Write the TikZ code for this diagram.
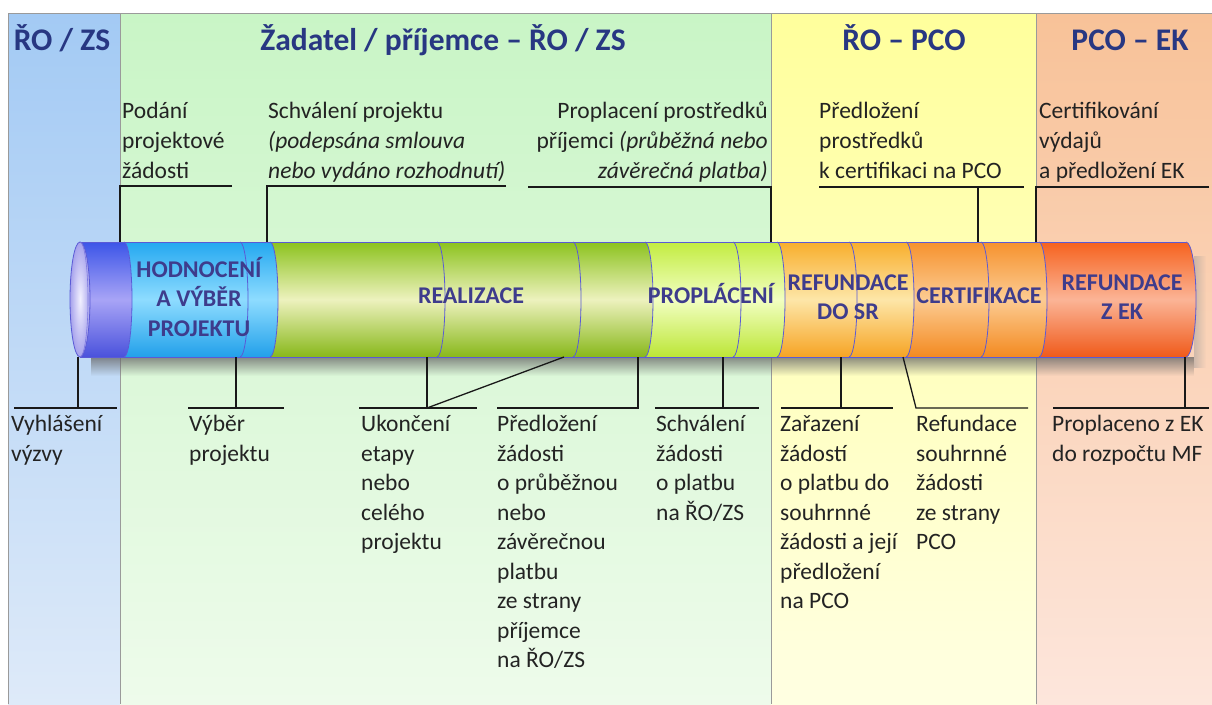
\documentclass[tikz,border=0pt]{standalone}
\usepackage{fontspec}
\setmainfont{Carlito}
\usetikzlibrary{fadings}
\tikzfading[name=shfade, top color=transparent!25, bottom color=transparent!100]
\tikzfading[name=shfadeR, left color=transparent!55, right color=transparent!100]
\definecolor{bgBa}{HTML}{A3CAF4}\definecolor{bgBb}{HTML}{DEEAF9}
\definecolor{bgGa}{HTML}{C9F5C6}\definecolor{bgGb}{HTML}{EEFBEB}
\definecolor{bgYa}{HTML}{FFFF9C}\definecolor{bgYb}{HTML}{FFFFE2}
\definecolor{bgOa}{HTML}{F8C298}\definecolor{bgOb}{HTML}{FDE6DC}
\definecolor{framec}{HTML}{9A9A9A}
\definecolor{hdrc}{RGB}{40,55,130}
\definecolor{segc}{RGB}{62,60,140}
\definecolor{txt}{RGB}{35,35,35}
\definecolor{arcc}{HTML}{5A5AD6}
\definecolor{bandT}{HTML}{3C55E8}\definecolor{bandM}{HTML}{A8A4F6}\definecolor{bandB}{HTML}{4A52DC}
\definecolor{bluT}{HTML}{24A8F0}\definecolor{bluM}{HTML}{8EDCFF}\definecolor{bluB}{HTML}{22A0EA}
\definecolor{grnT}{HTML}{8CC21E}\definecolor{grnM}{HTML}{EDF2BE}\definecolor{grnB}{HTML}{88B81A}
\definecolor{lgrT}{HTML}{C2EC40}\definecolor{lgrM}{HTML}{F2FFC2}\definecolor{lgrB}{HTML}{BCE636}
\definecolor{yorT}{HTML}{F8AE2C}\definecolor{yorM}{HTML}{FDE6A8}\definecolor{yorB}{HTML}{F6A424}
\definecolor{orgT}{HTML}{F6922E}\definecolor{orgM}{HTML}{FCCB92}\definecolor{orgB}{HTML}{F38A20}
\definecolor{redT}{HTML}{F6621E}\definecolor{redM}{HTML}{FBB496}\definecolor{redB}{HTML}{F05A1A}
\definecolor{capIn}{HTML}{F2F0FF}\definecolor{capOut}{HTML}{A6A2EC}\definecolor{capLn}{HTML}{7C78E0}
\newcommand{\lblA}{\fontsize{23.5}{30}\selectfont}
\newcommand{\lblB}{\fontsize{23.5}{29.5}\selectfont}
\newcommand{\hdrfont}{\fontsize{31.5}{36}\selectfont\bfseries}
\newcommand{\segfont}{\fontsize{24}{29.5}\selectfont\bfseries}
\newcommand{\cylseg}[5]{\shade[top color=#3, bottom color=#5, middle color=#4]
  (#1,-242) -- (#2,-242) arc[start angle=90,end angle=-90,x radius=8,y radius=57.5]
  -- (#1,-357) arc[start angle=-90,end angle=90,x radius=8,y radius=57.5] -- cycle;}
\newcommand{\cylarc}[1]{\draw[arcln] (#1,-242) arc[start angle=90,end angle=-90,x radius=8,y radius=57.5];}
\tikzset{
  tlbl/.style={anchor=north west, inner sep=0pt, align=left, font=\lblA, text=txt},
  tlblr/.style={anchor=north east, inner sep=0pt, align=right, font=\lblA, text=txt},
  blbl/.style={anchor=north west, inner sep=0pt, align=left, font=\lblB, text=txt},
  hdr/.style={anchor=base, inner sep=0pt, font=\hdrfont, text=hdrc},
  seg/.style={inner sep=0pt, align=center, font=\segfont, text=segc},
  conn/.style={draw=black!90, line width=1.3pt},
  arcln/.style={draw=arcc, line width=0.8pt},
  framel/.style={draw=framec, line width=0.9pt}
}
\begin{document}
\begin{tikzpicture}[x=1pt,y=1pt]
\useasboundingbox (0,0) rectangle (1212,-704);
\fill[white] (0,0) rectangle (1212,-704);
% column backgrounds
\shade[top color=bgBa, bottom color=bgBb] (8,-13) rectangle (120,-704);
\shade[top color=bgGa, bottom color=bgGb] (120,-13) rectangle (771,-704);
\shade[top color=bgYa, bottom color=bgYb] (771,-13) rectangle (1036,-704);
\shade[top color=bgOa, bottom color=bgOb] (1036,-13) rectangle (1212,-704);
\draw[framel] (8,-704) -- (8,-13) -- (1212,-13);
\draw[framel] (120,-13) -- (120,-704);
\draw[framel] (771,-13) -- (771,-704);
\draw[framel] (1036,-13) -- (1036,-704);
% headers
\node[hdr] (h1) at (62,-50) {ŘO / ZS};
\node[hdr] (h2) at (443,-50) {Žadatel / příjemce – ŘO / ZS};
\node[hdr] (h3) at (904,-50) {ŘO – PCO};
\node[hdr] (h4) at (1130,-50) {PCO – EK};
% shadow
\fill[black!60, path fading=shfade] (92,-357) rectangle (1198,-376);
\fill[black!40, path fading=shfadeR] (1194,-256) rectangle (1206,-368);
% cylinder segments
\shade[top color=bandT, bottom color=bandB, middle color=bandM]
  (80,-242) -- (124,-242) arc[start angle=90,end angle=-90,x radius=8,y radius=57.5] -- (80,-357) -- cycle;
\cylseg{124}{270}{bluT}{bluM}{bluB}
\cylseg{270}{645}{grnT}{grnM}{grnB}
\cylseg{645}{777}{lgrT}{lgrM}{lgrB}
\cylseg{777}{906}{yorT}{yorM}{yorB}
\cylseg{906}{1039}{orgT}{orgM}{orgB}
\shade[top color=redT, bottom color=redB, middle color=redM]
  (1039,-242) -- (1186,-242) arc[start angle=90,end angle=-90,x radius=10,y radius=57.5]
  -- (1039,-357) arc[start angle=-90,end angle=90,x radius=8,y radius=57.5] -- cycle;
\foreach \xa in {124,240,270,437,573,645,733,777,849,906,981,1039} {\cylarc{\xa}}
\draw[arcln] (1186,-242) arc[start angle=90,end angle=-90,x radius=10,y radius=57.5];
\draw[arcln] (80,-242) -- (1186,-242);
\draw[arcln] (80,-357) -- (1186,-357);
\shade[inner color=capIn, outer color=capOut] (80,-299.5) ellipse[x radius=10, y radius=57.5];
\draw[arcln] (80,-299.5) ellipse[x radius=10, y radius=57.5];
\draw[draw=capLn, line width=0.6pt] (80,-242) arc[start angle=90,end angle=-90,x radius=8,y radius=57.5];
% segment labels
\node[seg, anchor=north] (hodn) at (199,-256.5) {\strut HODNOCENÍ\\A VÝBĚR\\PROJEKTU};
\node[seg, anchor=base] (real) at (471,-303) {REALIZACE};
\node[seg, anchor=base] (prop) at (711,-303) {PROPLÁCENÍ};
\node[seg, anchor=north] (refsr) at (848,-269.5) {\strut REFUNDACE\\DO SR};
\node[seg, anchor=base] (certi) at (979,-303) {CERTIFIKACE};
\node[seg, anchor=north] (refek) at (1122,-269.5) {\strut REFUNDACE\\Z EK};
% top labels
\node[tlbl] (podani) at (122,-97) {\strut Podání\\projektové\\žádosti};
\node[tlbl] (schval) at (268,-97) {\strut Schválení projektu\\\textit{(podepsána smlouva}\\\textit{nebo vydáno rozhodnutí)}};
\node[tlblr] (propl) at (768,-97) {\strut Proplacení prostředků\\příjemci \textit{(průběžná nebo}\\\textit{závěrečná platba)}};
\node[tlbl] (predl) at (819,-97) {\strut Předložení\\prostředků\\k certifikaci na PCO};
\node[tlbl] (certv) at (1039,-97) {\strut Certifikování\\výdajů\\a předložení EK};
% top connector points
\coordinate (a1) at (232,-186); \coordinate (a2) at (120,-186); \coordinate (a3) at (120,-242);
\coordinate (b1) at (506,-186); \coordinate (b2) at (267,-186); \coordinate (b3) at (267,-242);
\coordinate (c1) at (528,-187); \coordinate (c2) at (771,-187); \coordinate (c3) at (771,-242);
\coordinate (d1) at (819,-187); \coordinate (d2) at (1024,-187); \coordinate (d3) at (978,-187); \coordinate (d4) at (978,-242);
\coordinate (e1) at (1209,-187); \coordinate (e2) at (1036,-187); \coordinate (e3) at (1036,-242);
\draw[conn] (a1) -- (a2) -- (a3);
\draw[conn] (b1) -- (b2) -- (b3);
\draw[conn] (c1) -- (c2) -- (c3);
\draw[conn] (d1) -- (d2); \draw[conn] (d3) -- (d4);
\draw[conn] (e1) -- (e2) -- (e3);
% bottom labels
\node[blbl] (vyhl) at (11,-411) {\strut Vyhlášení\\výzvy};
\node[blbl] (vyber) at (189,-411) {\strut Výběr\\projektu};
\node[blbl] (ukon) at (361,-411) {\strut Ukončení\\etapy\\nebo\\celého\\projektu};
\node[blbl] (predz) at (497,-411) {\strut Předložení\\žádosti\\o průběžnou\\nebo\\závěrečnou\\platbu\\ze strany\\příjemce\\na ŘO/ZS};
\node[blbl] (schvz) at (656,-411) {\strut Schválení\\žádosti\\o platbu\\na ŘO/ZS};
\node[blbl] (zar) at (780,-411) {\strut Zařazení\\žádostí\\o platbu do\\souhrnné\\žádosti a její\\předložení\\na PCO};
\node[blbl] (refs) at (916,-411) {\strut Refundace\\souhrnné\\žádosti\\ze strany\\PCO};
\node[blbl] (proek) at (1052,-411) {\strut Proplaceno z EK\\do rozpočtu MF};
% bottom connector points
\coordinate (f1) at (78,-357); \coordinate (f2) at (78,-408); \coordinate (f3) at (14,-408); \coordinate (f4) at (117,-408);
\coordinate (g1) at (236,-357); \coordinate (g2) at (236,-408); \coordinate (g3) at (188,-408); \coordinate (g4) at (284,-408);
\coordinate (h1a) at (427,-357); \coordinate (h2a) at (427,-408); \coordinate (h3a) at (359,-408); \coordinate (h4a) at (477,-408); \coordinate (h5a) at (564,-357);
\coordinate (i1) at (497,-408); \coordinate (i2) at (638,-408); \coordinate (i3) at (638,-357);
\coordinate (j1) at (723,-357); \coordinate (j2) at (723,-408); \coordinate (j3) at (655,-408); \coordinate (j4) at (759,-408);
\coordinate (k1) at (841,-357); \coordinate (k2) at (841,-408); \coordinate (k3) at (781,-408); \coordinate (k4) at (893,-408);
\coordinate (l1) at (903,-357); \coordinate (l2) at (916,-408); \coordinate (l3) at (1028,-408);
\coordinate (m1) at (1185,-357); \coordinate (m2) at (1185,-408); \coordinate (m3) at (1053,-408); \coordinate (m4) at (1209,-408);
\draw[conn] (f1) -- (f2); \draw[conn] (f3) -- (f4);
\draw[conn] (g1) -- (g2); \draw[conn] (g3) -- (g4);
\draw[conn] (h1a) -- (h2a); \draw[conn] (h3a) -- (h4a); \draw[conn] (h5a) -- (h2a);
\draw[conn] (i1) -- (i2) -- (i3);
\draw[conn] (j1) -- (j2); \draw[conn] (j3) -- (j4);
\draw[conn] (k1) -- (k2); \draw[conn] (k3) -- (k4);
\draw[conn] (l1) -- (l2) -- (l3);
\draw[conn] (m1) -- (m2); \draw[conn] (m3) -- (m4);
\end{tikzpicture}
\end{document}
